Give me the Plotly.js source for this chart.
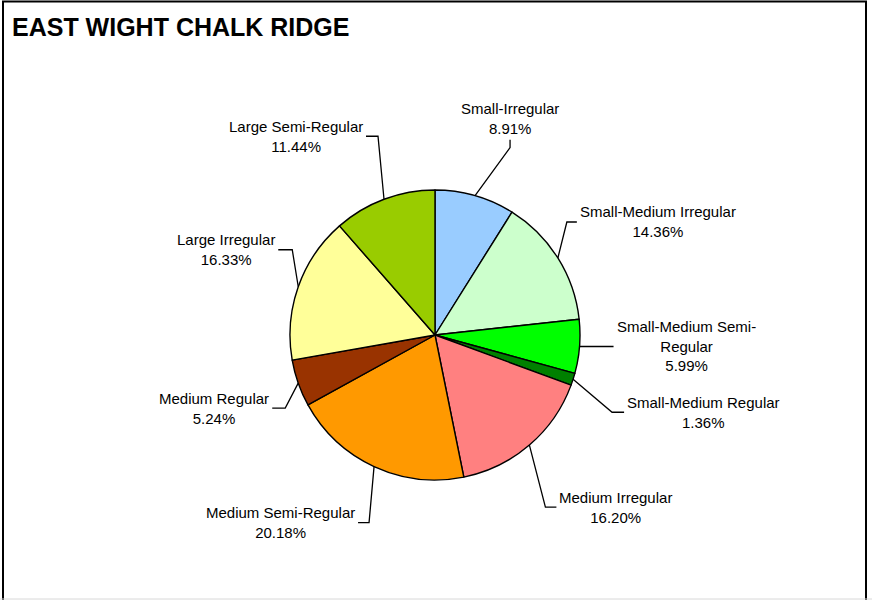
<!DOCTYPE html>
<html>
<head>
<meta charset="utf-8">
<script src="https://cdn.plot.ly/plotly-3.0.1.min.js"></script>
<style>html,body{margin:0;padding:0;background:#fff;}#chart{width:872px;height:600px;}</style>
</head>
<body>
<div id="chart"></div>
<script>
// ---- data ----
const categories = ['Small-Irregular', 'Small-Medium Irregular', 'Small-Medium Semi-Regular', 'Small-Medium Regular',
  'Medium Irregular', 'Medium Semi-Regular', 'Medium Regular', 'Large Irregular', 'Large Semi-Regular'];
const displayLabels = ['Small-Irregular', 'Small-Medium Irregular', 'Small-Medium Semi-<br>Regular', 'Small-Medium Regular',
  'Medium Irregular', 'Medium Semi-Regular', 'Medium Regular', 'Large Irregular', 'Large Semi-Regular'];
const values = [8.91, 14.36, 5.99, 1.36, 16.20, 20.18, 5.24, 16.33, 11.44];
const colors = ['#99CCFF', '#CCFFCC', '#00FF00', '#008000', '#FF8080', '#FF9900', '#993300', '#FFFF99', '#99CC00'];
const chartTitle = 'EAST WIGHT CHALK RIDGE';

// ---- layout (pixels) ----
const W = 872, H = 600;
const CX = 435, CY = 335, R = 145;
// leader-line elbow offsets from the slice edge (px) and horizontal tail length
const leaderElbow = [[35, -48], [9, -36], [34, 0], [39, 33], [16, 62], [-5, 56], [-13, 25], [-6, -37], [-6, -63]];
const leaderTail = [0, 10, 0, 12, 11, -11, -13, -14, -12];
const FONT = 'Liberation Sans, Arial, sans-serif';

const px = x => x / W;
const py = y => 1 - y / H;

const total = values.reduce((a, b) => a + b, 0);
const shapes = [];
const annotations = [];
let cum = 0;
values.forEach((v, i) => {
  const mid = (cum + v / 2) / total * 2 * Math.PI;
  cum += v;
  const dx = Math.sin(mid), dy = -Math.cos(mid);
  const x0 = CX + dx * R, y0 = CY + dy * R;
  const x1 = x0 + leaderElbow[i][0], y1 = y0 + leaderElbow[i][1];
  const tail = leaderTail[i];
  let x2 = x1 + tail, y2 = y1;
  const vertical = (i === 0);
  if (vertical) { x2 = x1; y2 = y1 - 8; }
  shapes.push({
    type: 'path', xref: 'paper', yref: 'paper',
    path: `M ${px(x0)},${py(y0)} L ${px(x1)},${py(y1)} L ${px(x2)},${py(y2)}`,
    line: {color: '#000', width: 1.3}
  });
  const txt = displayLabels[i] + '<br>' + v.toFixed(2) + '%';
  const ann = {
    xref: 'paper', yref: 'paper', text: txt, showarrow: false, align: 'center',
    font: {family: FONT, size: 15, color: '#000'}
  };
  if (vertical) {
    ann.x = px(x2); ann.y = py(y2 - 1); ann.xanchor = 'center'; ann.yanchor = 'bottom';
  } else {
    const side = (tail >= 0 && dx >= 0) ? 'left' : 'right';
    ann.x = px(x2 + (side === 'left' ? 1 : -1)); ann.y = py(y2);
    ann.xanchor = side; ann.yanchor = 'middle';
  }
  annotations.push(ann);
});

// chart border
shapes.push({type: 'rect', xref: 'paper', yref: 'paper', x0: px(3), x1: px(866), y0: py(606), y1: py(1.5),
  line: {color: '#000', width: 2}, layer: 'below'});
shapes.push({type: 'line', xref: 'paper', yref: 'paper', x0: 0, x1: 1, y0: py(599), y1: py(599),
  line: {color: '#d8d8d8', width: 1}});

const trace = {
  type: 'pie',
  labels: categories,
  values: values,
  sort: false,
  direction: 'clockwise',
  rotation: 0,
  textinfo: 'none',
  hoverinfo: 'label+percent',
  showlegend: false,
  marker: {colors: colors, line: {color: '#000', width: 1.4}},
  domain: {x: [px(CX - R), px(CX + R)], y: [py(CY + R), py(CY - R)]}
};

const layout = {
  width: W, height: H,
  margin: {l: 0, r: 0, t: 0, b: 0},
  paper_bgcolor: '#fff',
  title: {text: chartTitle, x: px(12), xanchor: 'left', xref: 'paper', y: py(27), yanchor: 'middle', yref: 'container',
    font: {family: FONT, size: 25, weight: 'bold', color: '#000'}},
  shapes: shapes,
  annotations: annotations
};

Plotly.newPlot('chart', [trace], layout, {displayModeBar: false, staticPlot: true});
</script>
</body>
</html>
